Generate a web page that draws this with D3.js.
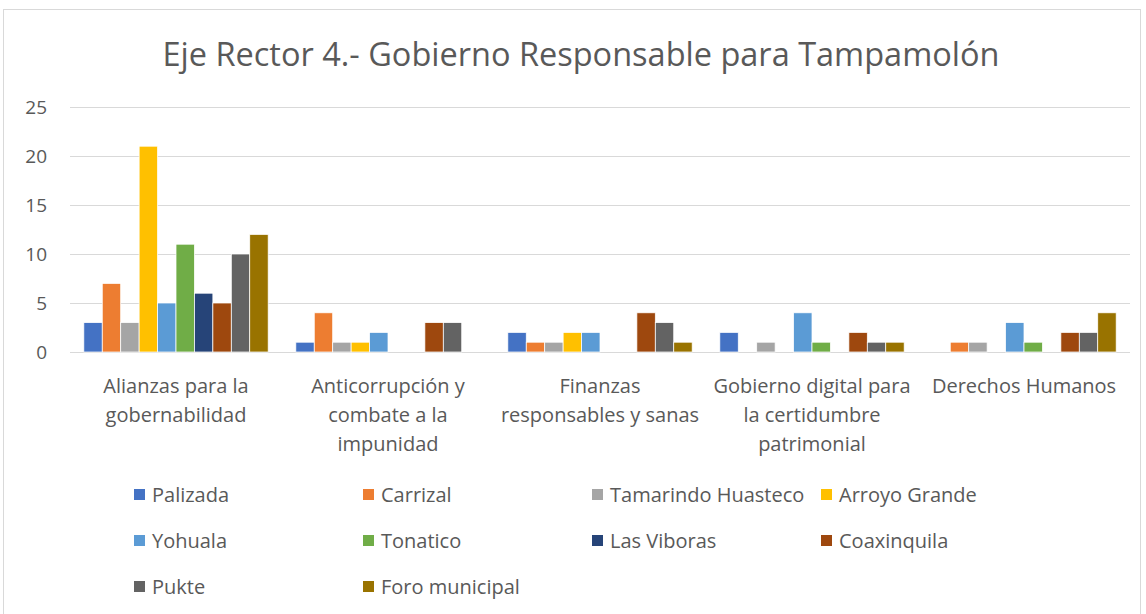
<!DOCTYPE html>
<html>
<head>
<meta charset="utf-8">
<script src="https://cdn.jsdelivr.net/npm/d3@7"></script>
<style>
  body { margin: 0; background: #fff; }
  text { font-family: 'Open Sans', sans-serif; fill: #595959; }
</style>
</head>
<body>
<div id="chart"></div>
<script>
'use strict';

// categories (line breaks as in the original labels)
const categories = [
  'Alianzas para la\ngobernabilidad',
  'Anticorrupción y\ncombate a la\nimpunidad',
  'Finanzas\nresponsables y sanas',
  'Gobierno digital para\nla certidumbre\npatrimonial',
  'Derechos Humanos'
]
const series_names = [
  'Palizada', 'Carrizal', 'Tamarindo Huasteco', 'Arroyo Grande', 'Yohuala',
  'Tonatico', 'Las Viboras', 'Coaxinquila', 'Pukte', 'Foro municipal'
]
const series_colors = [
  '#4472c4', '#ed7d31', '#a5a5a5', '#ffc000', '#5b9bd5',
  '#70ad47', '#264478', '#9e480e', '#636363', '#997300'
]
// values per series, one per category
const palizada    = [3, 1, 2, 2, 0]
const carrizal    = [7, 4, 1, 0, 1]
const tamarindo   = [3, 1, 1, 1, 1]
const arroyo      = [21, 1, 2, 0, 0]
const yohuala     = [5, 2, 2, 4, 3]
const tonatico    = [11, 0, 0, 1, 1]
const viboras     = [6, 0, 0, 0, 0]
const coaxinquila = [5, 3, 4, 2, 2]
const pukte       = [10, 3, 3, 1, 2]
const foro        = [12, 0, 1, 1, 4]
const y_ticks = [0, 5, 10, 15, 20, 25]

const series_values = [palizada, carrizal, tamarindo, arroyo, yohuala,
  tonatico, viboras, coaxinquila, pukte, foro]

const width = 1146, height = 614
const margin = { top: 107, left: 70, right: 16, bottom: 262 }
const ctrWidth = width - margin.left - margin.right
const ctrHeight = height - margin.top - margin.bottom

const svg = d3.select('#chart').append('svg')
  .attr('width', width)
  .attr('height', height)

// outer chart border
svg.append('rect')
  .attr('x', 3.5).attr('y', 9.5)
  .attr('width', 1137).attr('height', 620)
  .attr('fill', 'none')
  .attr('stroke', '#d9d9d9')

// title
svg.append('text')
  .attr('x', 581)
  .attr('y', 66)
  .attr('text-anchor', 'middle')
  .style('font-size', '32.5px')
  .text('Eje Rector 4.- Gobierno Responsable para Tampamolón')

const chart_g = svg.append('g')
  .attr('transform', `translate(${margin.left}, ${margin.top})`)

const x0 = d3.scaleBand()
  .domain(d3.range(categories.length))
  .range([0, ctrWidth])

const x1 = d3.scaleBand()
  .domain(d3.range(series_names.length))
  .range([0, x0.bandwidth()])
  .paddingOuter(0.75)

const yScale = d3.scaleLinear()
  .domain([0, 25])
  .range([ctrHeight, 0])

// gridlines
chart_g.append('g')
  .selectAll('line')
  .data(y_ticks)
  .join('line')
  .attr('x1', 0).attr('x2', ctrWidth)
  .attr('y1', d => yScale(d) + 0.5).attr('y2', d => yScale(d) + 0.5)
  .attr('stroke', '#d9d9d9')
  .attr('stroke-width', 1)

// y axis labels
const yAxis = d3.axisLeft(yScale).tickValues(y_ticks).tickSize(0).tickPadding(23)
const yAxisGroup = chart_g.append('g').call(yAxis)
yAxisGroup.select('.domain').remove()
yAxisGroup.selectAll('text')
  .style('font-size', '19px')
  .style('fill', '#595959')
  .style('font-family', "'Open Sans', sans-serif")

// bars
const groups = chart_g.append('g')
  .selectAll('g')
  .data(categories.map((c, ci) => series_values.map((v, si) => ({ ci, si, value: v[ci] }))))
  .join('g')
  .attr('transform', (d, i) => `translate(${x0(i)},0)`)

groups.selectAll('rect')
  .data(d => d.filter(e => e.value > 0))
  .join('rect')
  .attr('x', d => x1(d.si))
  .attr('width', x1.bandwidth())
  .attr('y', d => yScale(d.value))
  .attr('height', d => yScale(0) - yScale(d.value))
  .attr('fill', d => series_colors[d.si])
  .attr('stroke', '#fff')
  .attr('stroke-width', 0.75)

// category labels
chart_g.append('g')
  .selectAll('text')
  .data(categories)
  .join('text')
  .attr('x', (d, i) => x0(i) + x0.bandwidth() / 2)
  .attr('y', ctrHeight + 41)
  .attr('text-anchor', 'middle')
  .style('font-size', '20px')
  .each(function(d) {
    d3.select(this).selectAll('tspan')
      .data(d.split('\n'))
      .join('tspan')
      .attr('x', d3.select(this).attr('x'))
      .attr('dy', (l, i) => i === 0 ? 0 : 29)
      .text(l => l)
  })

// legend
const legend = svg.append('g')
  .selectAll('g')
  .data(series_names)
  .join('g')
  .attr('transform', (d, i) => `translate(${134 + (i % 4) * 229},${495 + Math.floor(i / 4) * 46})`)

legend.append('rect')
  .attr('x', 0).attr('y', -6)
  .attr('width', 11).attr('height', 11)
  .attr('fill', (d, i) => series_colors[i])

legend.append('text')
  .attr('x', 18)
  .attr('y', 0)
  .attr('dy', '0.35em')
  .style('font-size', '20px')
  .text(d => d)
</script>
</body>
</html>
